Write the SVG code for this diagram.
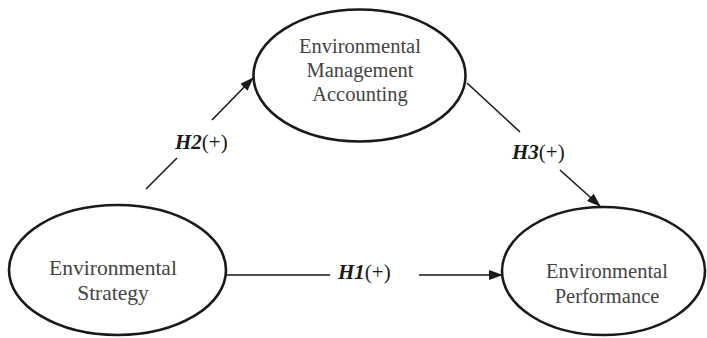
<svg xmlns="http://www.w3.org/2000/svg" width="707" height="338" viewBox="0 0 707 338">
<style>
.node{fill:#ffffff;stroke:#1a1a1a;stroke-width:2.6}
.nt{font-family:"Liberation Serif","Times New Roman",serif;font-size:20.5px;fill:#444444;text-anchor:middle}
.conn{stroke:#1a1a1a;stroke-width:1.6;fill:none}
.lbl{font-family:"Liberation Serif","Times New Roman",serif;font-size:21px;fill:#1a1a1a}
.hb{font-weight:bold;font-style:italic}
</style>
<defs>
<marker id="ah" markerWidth="14" markerHeight="10" refX="13" refY="5" orient="auto" markerUnits="userSpaceOnUse">
<path d="M0,0 L14,5 L0,10 Z" fill="#1a1a1a"/>
</marker>
</defs>
<rect width="707" height="338" fill="#ffffff"/>
<g id="connectors">
<line class="conn" x1="146" y1="189" x2="177" y2="158"/>
<line class="conn" x1="212" y1="120" x2="253" y2="78" marker-end="url(#ah)"/>
<line class="conn" x1="224" y1="275" x2="330" y2="275"/>
<line class="conn" x1="419" y1="275" x2="502" y2="275" marker-end="url(#ah)"/>
<line class="conn" x1="467" y1="83" x2="520" y2="132"/>
<line class="conn" x1="560" y1="170" x2="600" y2="206" marker-end="url(#ah)"/>
<text class="lbl" x="175" y="149"><tspan class="hb">H2</tspan>(+)</text>
<text class="lbl" x="338" y="279"><tspan class="hb">H1</tspan>(+)</text>
<text class="lbl" x="512" y="159"><tspan class="hb">H3</tspan>(+)</text>
</g>
<g id="node-ema">
<ellipse class="node" cx="359.5" cy="75.5" rx="106" ry="66"/>
<text class="nt" x="360" y="53">Environmental</text>
<text class="nt" x="360" y="77">Management</text>
<text class="nt" x="360" y="101">Accounting</text>
</g>
<g id="node-es">
<ellipse class="node" cx="117.5" cy="270" rx="108.5" ry="65"/>
<text class="nt" x="113" y="275" style="font-size:21.5px">Environmental</text>
<text class="nt" x="113" y="300" style="font-size:21.5px">Strategy</text>
</g>
<g id="node-ep">
<ellipse class="node" cx="603.5" cy="271" rx="101.5" ry="64"/>
<text class="nt" x="607" y="278">Environmental</text>
<text class="nt" x="607" y="303">Performance</text>
</g>
</svg>
